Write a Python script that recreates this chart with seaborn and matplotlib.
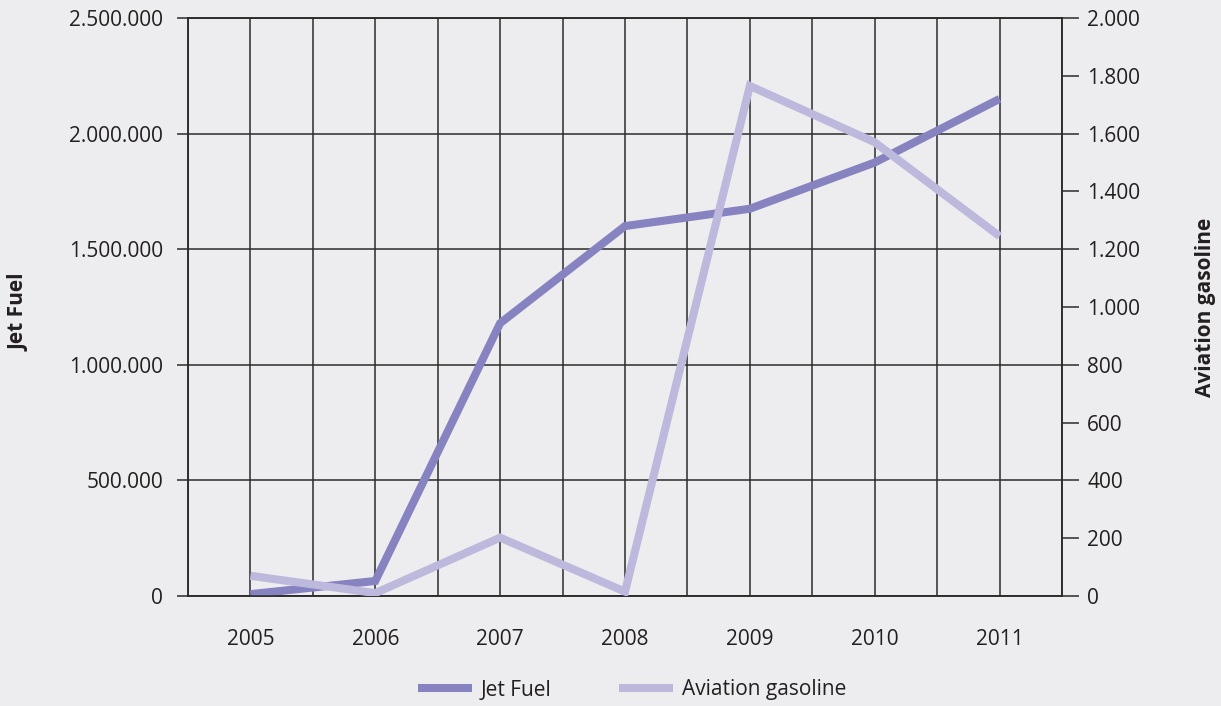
import matplotlib
matplotlib.use("Agg")
import matplotlib.pyplot as plt
import matplotlib.ticker as mticker
import pandas as pd
import seaborn as sns


years = ["2005", "2006", "2007", "2008", "2009", "2010", "2011"]
jet_fuel = [8000, 65000, 1180000, 1600000, 1675000, 1875000, 2150000]
aviation_gasoline = [70, 10, 202, 15, 1765, 1570, 1245]
jet_ticks = [0, 500000, 1000000, 1500000, 2000000, 2500000]
avgas_ticks = [0, 200, 400, 600, 800, 1000, 1200, 1400, 1600, 1800, 2000]

BG = "#EDEDF0"
INK = "#231F20"
GRID = "#2B2B2B"
JET_COLOR = "#8782C0"
AVGAS_COLOR = "#BDB9DD"

data = pd.DataFrame({"year": years, "jet_fuel": jet_fuel, "aviation_gasoline": aviation_gasoline})

sns.set_style("white", {"axes.facecolor": BG, "figure.facecolor": BG})
plt.rcParams["font.family"] = ["Open Sans", "DejaVu Sans"]
plt.rcParams["text.color"] = INK
plt.rcParams["axes.labelcolor"] = INK
plt.rcParams["xtick.color"] = INK
plt.rcParams["ytick.color"] = INK

fig = plt.figure(figsize=(12.21, 7.06), dpi=100)
ax = fig.add_axes([188 / 1221, 1 - 596 / 706, (1062 - 188) / 1221, (596 - 18) / 706])
ax2 = ax.twinx()

sns.lineplot(data=data, x="year", y="jet_fuel", ax=ax, color=JET_COLOR, linewidth=5.8,
             label="Jet Fuel", legend=False, solid_capstyle="butt", solid_joinstyle="miter", zorder=3)
sns.lineplot(data=data, x="year", y="aviation_gasoline", ax=ax2, color=AVGAS_COLOR, linewidth=5.8,
             label="Aviation gasoline", legend=False, solid_capstyle="butt", solid_joinstyle="miter", zorder=3)

ax.set_xlim(-0.5, len(years) - 0.5)
ax.set_ylim(0, 2500000)
ax2.set_ylim(0, 2000)

dotted = mticker.FuncFormatter(lambda v, _: f"{v:,.0f}".replace(",", "."))
ax.set_yticks(jet_ticks)
ax.yaxis.set_major_formatter(dotted)
ax2.set_yticks(avgas_ticks)
ax2.yaxis.set_major_formatter(dotted)

ax.set_xticks(range(len(years)))
ax.set_xticklabels(years)
ax.set_xticks([i - 0.5 for i in range(len(years) + 1)], minor=True)

ax.tick_params(axis="x", which="major", length=0, pad=24, labelsize=15)
ax.tick_params(axis="x", which="minor", length=11, width=1.1, direction="out", color=GRID)
ax.tick_params(axis="y", length=8, width=1.1, pad=10, labelsize=15, color=GRID)
ax2.tick_params(axis="y", length=12, width=1.1, pad=6, labelsize=15, color=GRID)

ax.grid(True, which="both", axis="x", color=GRID, linewidth=1.1)
ax.grid(True, which="major", axis="y", color=GRID, linewidth=1.1)
ax.set_axisbelow(True)

for a in (ax, ax2):
    for spine in a.spines.values():
        spine.set_visible(True)
        spine.set_color(GRID)
        spine.set_linewidth(1.1)

ax.set_xlabel("")
ax.set_ylabel("")
ax2.set_ylabel("")
fig.text(19 / 1221, 1 - 312 / 706, "Jet Fuel", rotation=90, ha="center", va="center",
         fontsize=15, fontweight="bold")
fig.text(1205 / 1221, 1 - 307 / 706, "Aviation gasoline", rotation=90, ha="center", va="center",
         fontsize=15, fontweight="bold")

handles = ax.get_lines()[:1] + ax2.get_lines()[:1]
fig.legend(handles, ["Jet Fuel", "Aviation gasoline"], loc="center", ncol=2, frameon=False,
           bbox_to_anchor=(632 / 1221, 1 - 690 / 706), fontsize=15, handlelength=2.6,
           handletextpad=0.45, columnspacing=3.2)

fig.savefig("out.png", dpi=100, facecolor=BG)
